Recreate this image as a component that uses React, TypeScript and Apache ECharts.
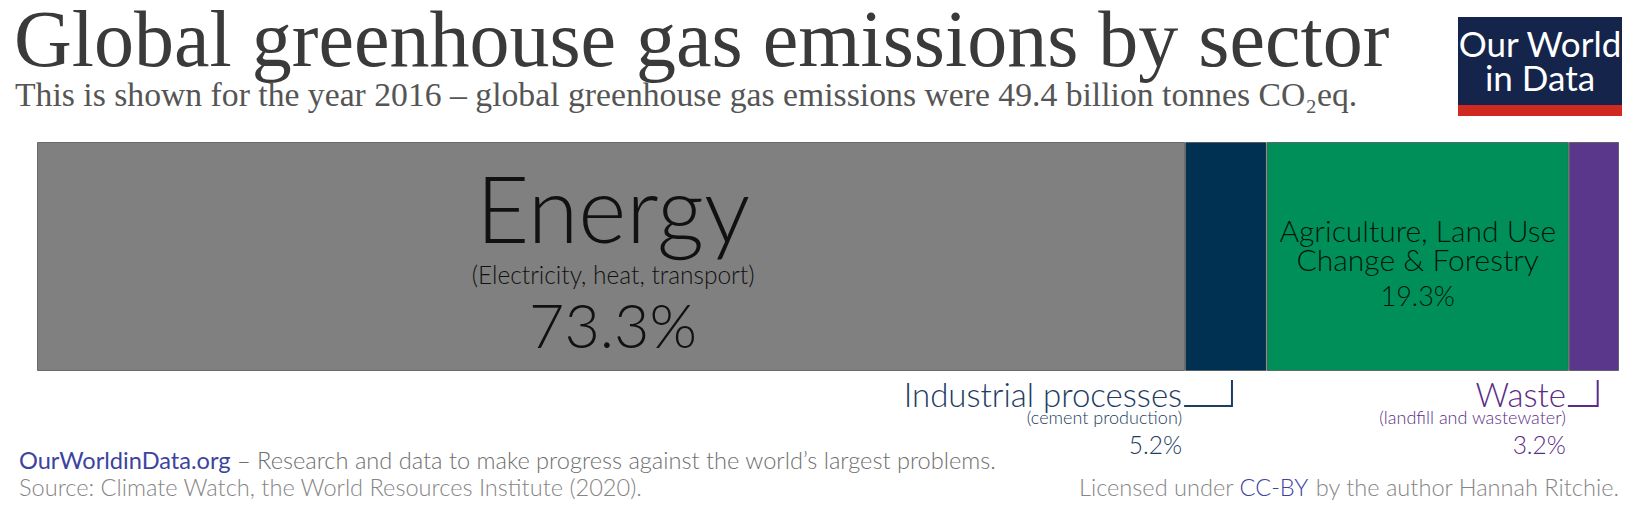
import React, { useEffect, useRef } from "react";
import * as echarts from "echarts";

const year = "2016";
const sectors = ["Energy", "Industrial processes", "Agriculture, Land Use\nChange & Forestry", "Waste"];
const subLabels = ["(Electricity, heat, transport)", "(cement production)", "", "(landfill and wastewater)"];
const shares = [73.3, 5.2, 19.3, 3.2];
const colors = ["#808080", "#003153", "#008f58", "#5b378b"];
const outsideTextColors = ["#111111", "#1d3d63", "#1a1a1a", "#5b2d86"];

const titleText = "Global greenhouse gas emissions by sector";
const subtitleText =
  "This is shown for the year 2016 – global greenhouse gas emissions were 49.4 billion tonnes CO₂eq.";
const footerLink = "OurWorldinData.org";
const footerTagline = " – Research and data to make progress against the world’s largest problems.";
const sourceText = "Source: Climate Watch, the World Resources Institute (2020).";
const licenseBefore = "Licensed under ";
const licenseLink = "CC-BY";
const licenseAfter = " by the author Hannah Ritchie.";
const logoLines = ["Our World", "in Data"];

const LATO = "Lato";
const SERIF = "'Liberation Serif', 'DejaVu Serif', serif";

function fmtPct(v: number) {
  return v.toFixed(1) + "%";
}

export default function App() {
  const ref = useRef<HTMLDivElement>(null);

  useEffect(() => {
    if (!ref.current) return;
    const chart = echarts.init(ref.current, undefined, { renderer: "svg" });
    const total = shares.reduce((a, b) => a + b, 0);

    const labelFor = (i: number): any => {
      const name = sectors[i];
      const sub = subLabels[i];
      const pct = fmtPct(shares[i]);
      if (i === 0) {
        return {
          show: true,
          position: "inside",
          offset: [2, 1],
          formatter: `{a|${name}}\n{b|${sub}}\n{c|${pct}}`,
          rich: {
            a: { fontFamily: LATO, fontWeight: 300, fontSize: 92, lineHeight: 106, color: "#111" },
            b: { fontFamily: LATO, fontWeight: 300, fontSize: 24.5, lineHeight: 28, color: "#111" },
            c: { fontFamily: LATO, fontWeight: 300, fontSize: 61, lineHeight: 73, color: "#111" },
          },
        };
      }
      if (i === 2) {
        const lines = name.split("\n").map((l) => `{a|${l}}`).join("\n");
        return {
          show: true,
          position: "inside",
          offset: [0, 11],
          formatter: `${lines}\n{c|${pct}}`,
          rich: {
            a: { fontFamily: LATO, fontWeight: 300, fontSize: 30, lineHeight: 28.3, color: "rgba(0,0,0,0.85)" },
            c: { fontFamily: LATO, fontWeight: 300, fontSize: 27, lineHeight: 46.3, color: "rgba(0,0,0,0.85)" },
          },
        };
      }
      const col = outsideTextColors[i];
      return {
        show: true,
        position: [-3, 238.5],
        align: "right",
        verticalAlign: "top",
        formatter: `{a|${name}}\n{b|${sub}}\n{c|${pct}}`,
        rich: {
          a: { fontFamily: LATO, fontWeight: 300, fontSize: 33, lineHeight: 27, color: col, align: "right" },
          b: { fontFamily: LATO, fontWeight: 300, fontSize: 18, lineHeight: 18, color: col, align: "right" },
          c: { fontFamily: LATO, fontWeight: 300, fontSize: 24.5, lineHeight: 37.4, color: col, align: "right" },
        },
      };
    };

    const series = sectors.map((name, i) => ({
      name,
      type: "bar",
      stack: "total",
      barWidth: "100%",
      data: [shares[i]],
      itemStyle: { color: colors[i], borderColor: "rgba(70,70,70,0.7)", borderWidth: 1 },
      label: labelFor(i),
      emphasis: { disabled: true },
    }));

    chart.setOption({
      animation: false,
      title: [
        {
          text: titleText,
          left: 14,
          top: 0,
          padding: 0,
          textStyle: { fontFamily: SERIF, fontSize: 80, fontWeight: "normal", color: "#3a3a3a", lineHeight: 78 },
        },
        {
          text: subtitleText,
          left: 15,
          top: 77,
          padding: 0,
          textStyle: { fontFamily: SERIF, fontSize: 33.7, fontWeight: "normal", color: "#555555", lineHeight: 34 },
        },
      ],
      grid: { left: 37, right: 26, top: 142, bottom: 137, containLabel: false },
      xAxis: { type: "value", min: 0, max: total, show: false },
      yAxis: { type: "category", data: [year], show: false },
      series,
    });

    // annotation brackets for the small segments, positioned via the axis scale
    const graphics: any[] = [];
    let cum = 0;
    shares.forEach((v, i) => {
      const x0 = chart.convertToPixel({ xAxisIndex: 0 }, cum) as number;
      const x1 = chart.convertToPixel({ xAxisIndex: 0 }, cum + v) as number;
      cum += v;
      if (i === 1 || i === 3) {
        const vx = x0 + 0.575 * (x1 - x0);
        graphics.push({
          type: "polyline",
          shape: { points: [[x0 - 1, 406], [vx, 406], [vx, 380]] },
          style: { stroke: outsideTextColors[i], lineWidth: 2, fill: "none" },
          silent: true,
        });
      }
    });

    // logo
    graphics.push(
      { type: "rect", shape: { x: 1458, y: 17, width: 164, height: 88 }, style: { fill: "#14244b" }, silent: true },
      { type: "rect", shape: { x: 1458, y: 105, width: 164, height: 11 }, style: { fill: "#d0291f" }, silent: true },
      {
        type: "text",
        x: 1540,
        y: 43,
        style: { text: logoLines[0], fontFamily: LATO, fontSize: 35, fontWeight: 400, fill: "#ffffff", align: "center", verticalAlign: "middle" },
        silent: true,
      },
      {
        type: "text",
        x: 1540,
        y: 76.5,
        style: { text: logoLines[1], fontFamily: LATO, fontSize: 35, fontWeight: 400, fill: "#ffffff", align: "center", verticalAlign: "middle" },
        silent: true,
      }
    );

    // footer
    const FS = 23.6;
    graphics.push(
      {
        type: "text",
        x: 19,
        y: 460,
        style: {
          text: `{l|${footerLink}}{g|${footerTagline}}`,
          align: "left",
          verticalAlign: "middle",
          rich: {
            l: { fontFamily: LATO, fontWeight: 400, fontSize: FS, fill: "#3c44a0" },
            g: { fontFamily: LATO, fontWeight: 300, fontSize: FS, fill: "#6f6f6f" },
          },
        },
        silent: true,
      },
      {
        type: "text",
        x: 19,
        y: 487,
        style: { text: sourceText, fontFamily: LATO, fontWeight: 300, fontSize: FS, fill: "#858585", align: "left", verticalAlign: "middle" },
        silent: true,
      },
      {
        type: "text",
        x: 1619,
        y: 487,
        style: {
          text: `{g|${licenseBefore}}{l|${licenseLink}}{g|${licenseAfter}}`,
          align: "right",
          verticalAlign: "middle",
          rich: {
            l: { fontFamily: LATO, fontWeight: 300, fontSize: FS, fill: "#3c44a0" },
            g: { fontFamily: LATO, fontWeight: 300, fontSize: FS, fill: "#858585" },
          },
        },
        silent: true,
      }
    );

    chart.setOption({ graphic: graphics });

    return () => chart.dispose();
  }, []);

  return (
    <div
      ref={ref}
      style={{ position: "fixed", left: 0, top: 0, width: 1645, height: 508, background: "#ffffff" }}
    />
  );
}
